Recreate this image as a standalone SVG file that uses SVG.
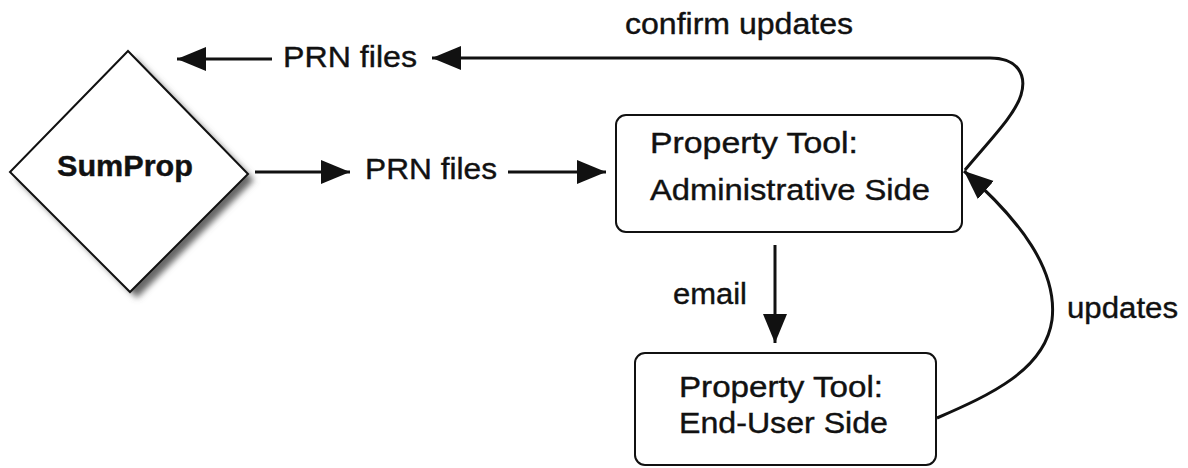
<svg xmlns="http://www.w3.org/2000/svg" width="1188" height="468" viewBox="0 0 1188 468">
<style>
text{font-family:"Liberation Sans",Arial,sans-serif;font-size:30px;fill:#111;stroke:#111;stroke-width:0.4;}
.node{fill:#fff;stroke:#111;stroke-width:2;}
.conn{fill:none;stroke:#111;stroke-width:3;}
</style>
<defs>
<marker id="ah" markerUnits="userSpaceOnUse" markerWidth="32" markerHeight="26" refX="29" refY="13" orient="auto">
<path d="M0,1 L29,13 L0,25 Z" fill="#111"/>
</marker>
<filter id="sh" x="-20%" y="-20%" width="140%" height="140%">
<feGaussianBlur stdDeviation="3"/>
</filter>
</defs>
<rect width="1188" height="468" fill="#fff"/>
<g id="sumprop">
<polygon points="135,58 254,180 137,298 16,178" fill="#666" filter="url(#sh)"/>
<polygon class="node" points="128,51 248,174 130,292 10,172" stroke-width="2.5"/>
<text x="57" y="176" font-size="31" font-weight="bold" stroke-width="0" textLength="136" lengthAdjust="spacingAndGlyphs">SumProp</text>
</g>
<g id="admin">
<rect class="node" x="616" y="115" width="346" height="117" rx="10"/>
<text x="650" y="153" textLength="208" lengthAdjust="spacingAndGlyphs">Property Tool:</text>
<text x="650" y="200" textLength="280" lengthAdjust="spacingAndGlyphs">Administrative Side</text>
</g>
<g id="enduser">
<rect class="node" x="635" y="353" width="301" height="112" rx="10"/>
<text x="679" y="397" textLength="204" lengthAdjust="spacingAndGlyphs">Property Tool:</text>
<text x="679" y="433" textLength="209" lengthAdjust="spacingAndGlyphs">End-User Side</text>
</g>
<g id="connectors">
<line class="conn" x1="255" y1="172" x2="350" y2="172" marker-end="url(#ah)"/>
<line class="conn" x1="508" y1="172" x2="606" y2="172" marker-end="url(#ah)"/>
<path class="conn" d="M965,170 C990,140 1015,115 1021,95 C1027,75 1018,58 990,58 L432,58" marker-end="url(#ah)"/>
<line class="conn" x1="272" y1="59" x2="177" y2="59" marker-end="url(#ah)"/>
<path class="conn" d="M937,418 C990,395 1045,370 1052,320 C1058,270 1020,220 964,171" marker-end="url(#ah)"/>
<line class="conn" x1="775" y1="245" x2="775" y2="343" marker-end="url(#ah)"/>
<text x="283" y="67" textLength="134" lengthAdjust="spacingAndGlyphs">PRN files</text>
<text x="365" y="179" textLength="132" lengthAdjust="spacingAndGlyphs">PRN files</text>
<text x="625" y="34" textLength="228" lengthAdjust="spacingAndGlyphs">confirm updates</text>
<text x="673" y="304" textLength="74" lengthAdjust="spacingAndGlyphs">email</text>
<text x="1067" y="318" textLength="111" lengthAdjust="spacingAndGlyphs">updates</text>
</g>
</svg>
